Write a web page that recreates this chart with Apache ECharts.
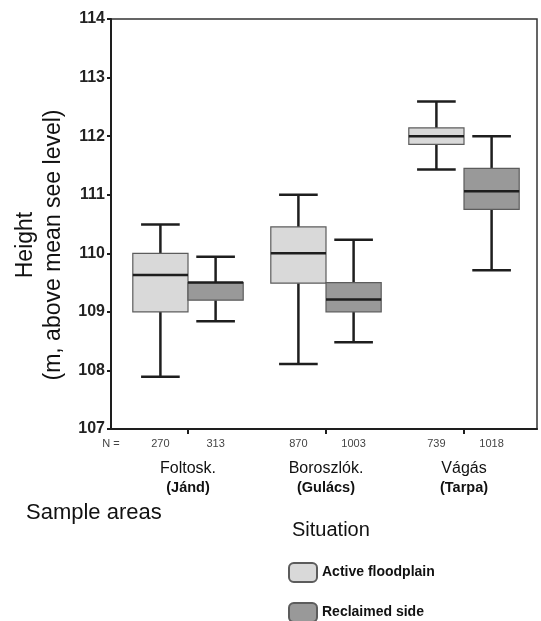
<!DOCTYPE html>
<html>
<head>
<meta charset="utf-8">
<script src="https://cdn.jsdelivr.net/npm/echarts@6/dist/echarts.min.js"></script>
<style>
  html, body { margin: 0; padding: 0; background: #fff; }
  #main { width: 541px; height: 621px; }
</style>
</head>
<body>
<div id="main"></div>
<script>
// sample areas and their village names
var categories = ['Foltosk.', 'Boroszlók.', 'Vágás'];
var villages = ['(Jánd)', '(Gulács)', '(Tarpa)'];

// [min, Q1, median, Q3, max] per area
var activeFloodplain = [
    [107.89, 109.00, 109.63, 110.00, 110.49],
    [108.11, 109.49, 110.00, 110.45, 111.00],
    [111.43, 111.86, 112.00, 112.14, 112.59]
];
var reclaimedSide = [
    [108.84, 109.20, 109.50, 109.50, 109.94],
    [108.48, 109.00, 109.21, 109.50, 110.23],
    [109.71, 110.75, 111.06, 111.45, 112.00]
];

// sample sizes
var nActive = [270, 870, 739];
var nReclaimed = [313, 1003, 1018];

var yTicks = [107, 108, 109, 110, 111, 112, 113, 114];

// box centres sit left / right of each area's tick
var boxOffset = 0.2;

function toData(list, off) {
    return list.map(function (d, i) {
        return [i + off].concat(d);
    });
}

// positions of the N = labels on the x value scale
var nPos = [-0.558];
var nText = ['N ='];
categories.forEach(function (c, i) {
    nPos.push(i - boxOffset, i + boxOffset);
    nText.push(String(nActive[i]), String(nReclaimed[i]));
});

function renderBox(params, api) {
    var x = api.value(0);
    var yMin = api.coord([x, api.value(1)])[1];
    var yQ1 = api.coord([x, api.value(2)])[1];
    var yMed = api.coord([x, api.value(3)])[1];
    var yQ3 = api.coord([x, api.value(4)])[1];
    var yMax = api.coord([x, api.value(5)])[1];
    var cx = api.coord([x, api.value(3)])[0];
    var bw = api.size([0.4, 0])[0];
    var cw = api.size([0.28, 0])[0];
    var fill = api.visual('color');
    var line = { stroke: '#1e1e1e', lineWidth: 2.5 };
    return {
        type: 'group',
        children: [
            { type: 'line', shape: { x1: cx, y1: yMax, x2: cx, y2: yQ3 }, style: line },
            { type: 'line', shape: { x1: cx, y1: yQ1, x2: cx, y2: yMin }, style: line },
            { type: 'line', shape: { x1: cx - cw / 2, y1: yMax, x2: cx + cw / 2, y2: yMax }, style: line },
            { type: 'line', shape: { x1: cx - cw / 2, y1: yMin, x2: cx + cw / 2, y2: yMin }, style: line },
            { type: 'rect', shape: { x: cx - bw / 2, y: yQ3, width: bw, height: yQ1 - yQ3 },
              style: { fill: fill, stroke: '#5c5c5c', lineWidth: 1.2 } },
            { type: 'line', shape: { x1: cx - bw / 2, y1: yMed, x2: cx + bw / 2, y2: yMed }, style: line }
        ]
    };
}

var legendText = { fontSize: 14, fontWeight: 'bold', color: '#111' };

var chart = echarts.init(document.getElementById('main'));
chart.setOption({
    backgroundColor: '#ffffff',
    animation: false,
    textStyle: { fontFamily: 'Liberation Sans, Arial, sans-serif' },
    title: [{
        text: 'Sample areas',
        left: 21, top: 497,
        textStyle: { fontSize: 22, fontWeight: 'normal', color: '#111' }
    }, {
        text: 'Situation',
        left: 287, top: 515,
        textStyle: { fontSize: 20, fontWeight: 'normal', color: '#111' }
    }],
    legend: [{
        left: 283, top: 557,
        itemWidth: 28, itemHeight: 19,
        icon: 'roundRect',
        data: ['Active floodplain'],
        textStyle: legendText
    }, {
        left: 283, top: 597,
        itemWidth: 28, itemHeight: 19,
        icon: 'roundRect',
        data: ['Reclaimed side'],
        textStyle: legendText
    }],
    grid: {
        left: 111, right: 4, top: 19, bottom: 192,
        outerBoundsMode: 'none',
        containLabel: false,
        show: true, borderColor: '#333', borderWidth: 1.5
    },
    xAxis: [{
        type: 'value',
        min: -0.558, max: 2.529,
        splitLine: { show: false },
        axisLine: { show: true, onZero: false, lineStyle: { color: '#1e1e1e', width: 2 } },
        axisTick: { show: true, customValues: [0, 1, 2], length: 5, lineStyle: { color: '#1e1e1e', width: 2 } },
        axisLabel: {
            customValues: [0, 1, 2],
            margin: 30,
            formatter: function (v) {
                var i = Math.round(v);
                return '{a|' + categories[i] + '}\n{b|' + villages[i] + '}';
            },
            rich: {
                a: { fontSize: 16, color: '#111', lineHeight: 19 },
                b: { fontSize: 14.5, fontWeight: 'bold', color: '#111', lineHeight: 19 }
            }
        }
    }, {
        type: 'value',
        min: -0.558, max: 2.529,
        position: 'bottom',
        splitLine: { show: false },
        axisLine: { show: false },
        axisTick: { show: false },
        axisLabel: {
            customValues: nPos,
            margin: 9,
            fontSize: 11,
            color: '#444',
            fontFamily: 'Liberation Sans Narrow, Liberation Sans, sans-serif',
            formatter: function (v) {
                var k = 0, best = 1e9;
                nPos.forEach(function (p, j) {
                    if (Math.abs(p - v) < best) { best = Math.abs(p - v); k = j; }
                });
                return nText[k];
            }
        }
    }],
    yAxis: {
        type: 'value',
        min: 107, max: 114, interval: 1,
        name: 'Height\n(m, above mean see level)',
        nameLocation: 'middle',
        nameGap: 42,
        nameTextStyle: { fontSize: 23, color: '#111', lineHeight: 28, padding: [0, 42, 0, 0] },
        splitLine: { show: false },
        axisLine: { show: true, onZero: false, lineStyle: { color: '#1e1e1e', width: 2 } },
        axisTick: { show: true, length: 4, lineStyle: { color: '#1e1e1e', width: 2 } },
        axisLabel: {
            margin: 6, fontSize: 16, fontWeight: 'bold', color: '#222',
            customValues: yTicks
        }
    },
    series: [{
        name: 'Active floodplain',
        type: 'custom',
        xAxisIndex: 0,
        renderItem: renderBox,
        itemStyle: { color: '#d9d9d9', borderColor: '#5c5c5c', borderWidth: 1 },
        encode: { x: 0, y: [1, 2, 3, 4, 5] },
        data: toData(activeFloodplain, -boxOffset)
    }, {
        name: 'Reclaimed side',
        type: 'custom',
        xAxisIndex: 0,
        renderItem: renderBox,
        itemStyle: { color: '#999999', borderColor: '#5c5c5c', borderWidth: 1 },
        encode: { x: 0, y: [1, 2, 3, 4, 5] },
        data: toData(reclaimedSide, boxOffset)
    }]
});
</script>
</body>
</html>
